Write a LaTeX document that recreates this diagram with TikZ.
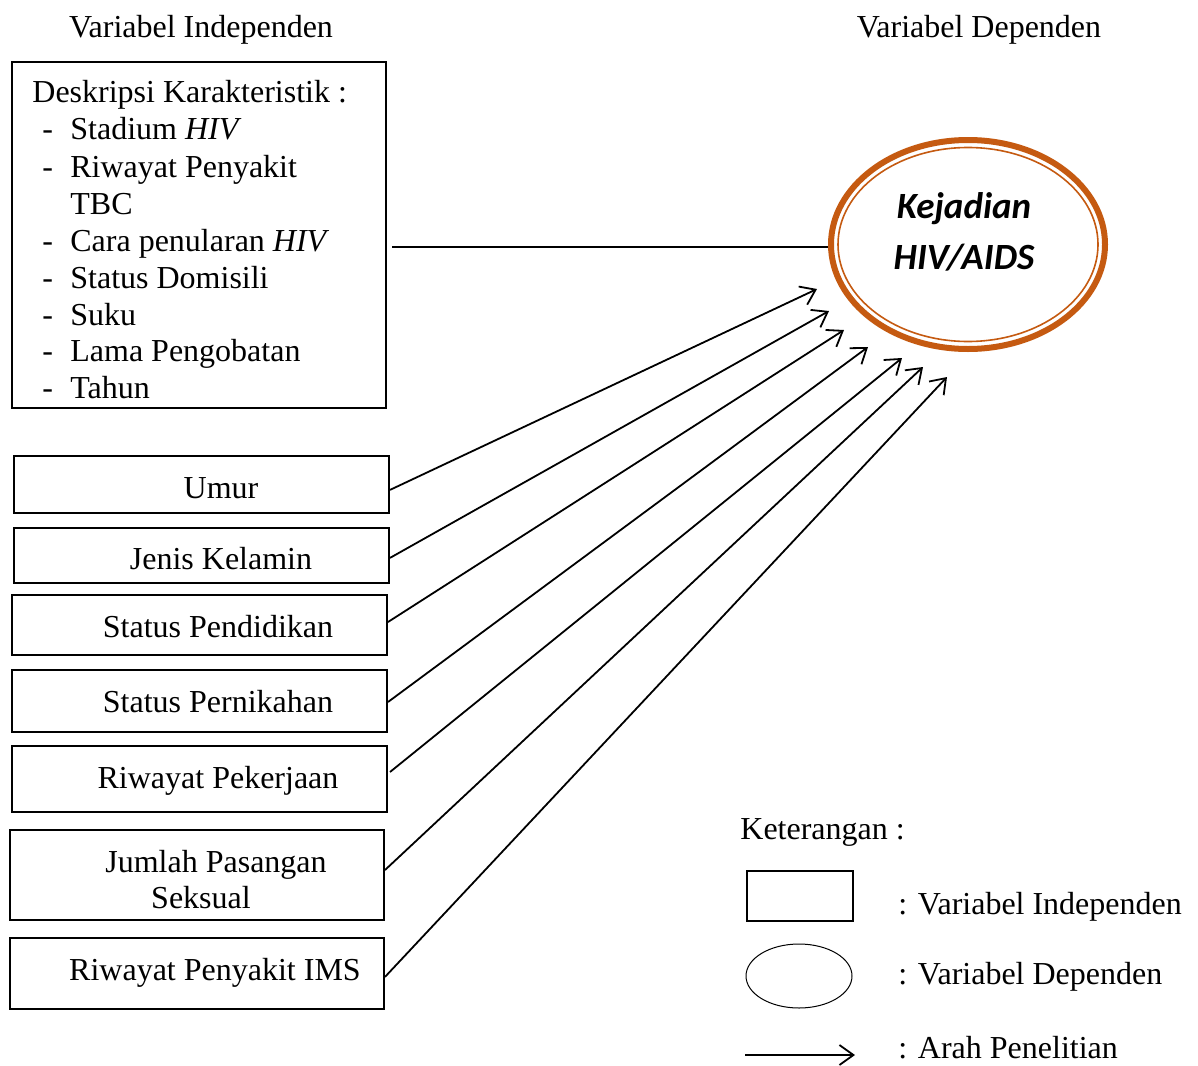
\documentclass[tikz,border=0pt]{standalone}
\usepackage{fontspec}
\setmainfont{Liberation Serif}
\newfontfamily\calib{Carlito}
\usetikzlibrary{arrows.meta,shapes.geometric}
\definecolor{hivor}{HTML}{C55A11}
\begin{document}
\begin{tikzpicture}[x=0.5pt,y=-0.5pt,
  txt/.style={font=\fontsize{16}{18.5}\selectfont, inner sep=0pt, anchor=base west},
  ctxt/.style={font=\fontsize{16}{18.5}\selectfont, inner sep=0pt, anchor=base},
  varbox/.style={draw, line width=1pt, rectangle, inner sep=0pt, minimum width=187.5pt},
  conn/.style={line width=0.9pt},
  arr/.style={conn, -{Straight Barb[length=7pt,width=10pt,line width=0.9pt]}},
  itm/.style={txt},
  dep/.style={font=\calib\bfseries\itshape\fontsize{18.5}{25.5}\selectfont, inner sep=0pt, anchor=base}]
\useasboundingbox (0,0) rectangle (1198,1065);

% titles
\node[ctxt] (tind) at (201,38) {Variabel Independen};
\node[ctxt] (tdep) at (979,38) {Variabel Dependen};

% description box
\node[draw, line width=1pt, inner sep=0pt, minimum width=187pt, minimum height=173pt] (desk) at (199,235) {};
\node[txt] (d0) at (32,103) {Deskripsi Karakteristik :};
\node[itm] (d1) at (42,140) {\makebox[14pt][l]{-}Stadium \textit{HIV}};
\node[itm] (d2) at (42,177) {\makebox[14pt][l]{-}Riwayat Penyakit};
\node[itm] (d2b) at (70,214) {TBC};
\node[itm] (d3) at (42,251) {\makebox[14pt][l]{-}Cara penularan \textit{HIV}};
\node[itm] (d4) at (42,288) {\makebox[14pt][l]{-}Status Domisili};
\node[itm] (d5) at (42,325) {\makebox[14pt][l]{-}Suku};
\node[itm] (d6) at (42,361) {\makebox[14pt][l]{-}Lama Pengobatan};
\node[itm] (d7) at (42,398) {\makebox[14pt][l]{-}Tahun};

% dependent variable
\node[draw=hivor, line width=3pt, ellipse, inner sep=0pt, minimum width=137pt, minimum height=104.5pt] (dep) at (968,244.5) {};
\node[draw=hivor, line width=0.8pt, ellipse, inner sep=0pt, minimum width=130pt, minimum height=97pt] (depin) at (968,244.5) {};
\node[dep] (k1) at (964,218) {Kejadian};
\node[dep] (k2) at (964,269) {HIV/AIDS};

\coordinate (h0) at (392,247);
\draw[line width=0.75pt] (h0) -- (h0 -| dep.west);

% independent boxes
\node[varbox, minimum height=28.5pt] (b1) at (201.5,484.5) {};
\node[varbox, minimum height=27.5pt] (b2) at (201.5,555.5) {};
\node[varbox, minimum height=30pt] (b3) at (199.5,625) {};
\node[varbox, minimum height=31pt] (b4) at (199.5,701) {};
\node[varbox, minimum height=33pt] (b5) at (199.5,779) {};
\node[varbox, minimum width=187pt, minimum height=45pt] (b6) at (197,875) {};
\node[varbox, minimum width=187pt, minimum height=35.5pt] (b7) at (197,973.5) {};

\node[ctxt] (l1) at (221,498) {Umur};
\node[ctxt] (l2) at (221,569) {Jenis Kelamin};
\node[ctxt] (l3) at (218,637) {Status Pendidikan};
\node[ctxt] (l4) at (218,712) {Status Pernikahan};
\node[ctxt] (l5) at (218,788) {Riwayat Pekerjaan};
\node[ctxt] (l6a) at (216,872) {Jumlah Pasangan};
\node[ctxt] (l6b) at (201,908) {Seksual};
\node[ctxt] (l7) at (215,980) {Riwayat Penyakit IMS};

% arrow tips
\coordinate (t1) at (817,289);
\coordinate (t2) at (829,311);
\coordinate (t3) at (844,330);
\coordinate (t4) at (868,347);
\coordinate (t5) at (902,358);
\coordinate (t6) at (923,367);
\coordinate (t7) at (947,377);

\draw[arr] ([yshift=-2.7pt]b1.east) -- (t1);
\draw[arr] ([yshift=-1.2pt]b2.east) -- (t2);
\draw[arr] ([yshift=1.5pt]b3.east) -- (t3);
\draw[arr] ([yshift=-0.5pt]b4.east) -- (t4);
\draw[arr] ([xshift=1pt,yshift=3.5pt]b5.east) -- (t5);
\draw[arr] ([yshift=2.5pt]b6.east) -- (t6);
\draw[arr] ([yshift=-1.7pt]b7.east) -- (t7);

% legend
\node[txt] (ket) at (740,839) {Keterangan :};
\node[draw, line width=1pt, inner sep=0pt, minimum width=53pt, minimum height=25pt] (lbox) at (800,896) {};
\node[draw, line width=0.5pt, ellipse, inner sep=0pt, minimum width=53pt, minimum height=32pt] (lell) at (799,976) {};
\coordinate (la0) at (745,1055);
\coordinate (la1) at (855,1055);
\draw[arr] (la0) -- (la1);
\node[txt] (lt1) at (898,914) {: Variabel Independen};
\node[txt] (lt2) at (898,984) {: Variabel Dependen};
\node[txt] (lt3) at (898,1058) {: Arah Penelitian};
\end{tikzpicture}
\end{document}
